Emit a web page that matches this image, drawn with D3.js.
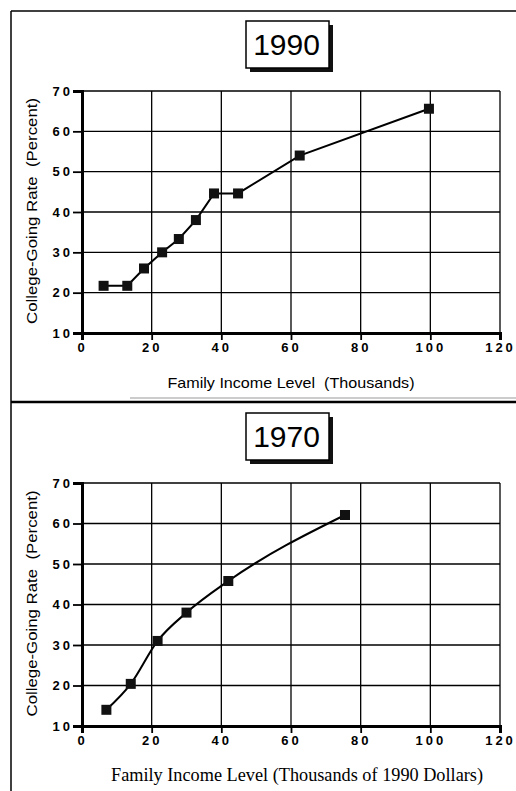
<!DOCTYPE html>
<html>
<head>
<meta charset="utf-8">
<script src="https://cdn.jsdelivr.net/npm/d3@7"></script>
<style>
  body { margin: 0; background: #fff; }
  svg { display: block; }
</style>
</head>
<body>
<svg width="516" height="791"></svg>
<script>
// values
const income1990 = [6.2, 13, 17.8, 23, 27.8, 32.7, 37.9, 44.8, 62.5, 99.6];
const rate1990 = [21.7, 21.7, 26, 30, 33.3, 38, 44.6, 44.6, 54, 65.6];
const income1970 = [7, 14, 21.7, 30, 42, 75.5];
const rate1970 = [14, 20.4, 31, 38, 45.8, 62.1];
const xTicks = [0, 20, 40, 60, 80, 100, 120];
const yTicks = [10, 20, 30, 40, 50, 60, 70];

const svg = d3.select('svg');
const sans = 'Liberation Sans, Arial, sans-serif';

// outer panel frames
svg.append('line').attr('x1', 11).attr('y1', 11).attr('x2', 11).attr('y2', 791)
  .attr('stroke', '#000').attr('stroke-width', 1.5);
svg.append('line').attr('x1', 11).attr('y1', 11).attr('x2', 516).attr('y2', 11)
  .attr('stroke', '#000').attr('stroke-width', 1.5);
svg.append('line').attr('x1', 130).attr('y1', 398).attr('x2', 516).attr('y2', 398)
  .attr('stroke', '#999').attr('stroke-width', 1);
svg.append('line').attr('x1', 11).attr('y1', 402).attr('x2', 516).attr('y2', 402)
  .attr('stroke', '#000').attr('stroke-width', 2.5);

const drawPanel = (opts) => {
  const { title, xs, ys, top, bottom, boxTop, curve, xLabel, xLabelFont, xLabelSize, xLabelLen, xLabelX } = opts;
  const left = 82, right = 500;

  const x = d3.scaleLinear().domain([0, 120]).range([left, right]);
  const y = d3.scaleLinear().domain([10, 70]).range([bottom, top]);

  // title box with drop shadow
  const g = svg.append('g');
  g.append('rect').attr('x', 250).attr('y', boxTop + 4).attr('width', 83).attr('height', 47).attr('fill', '#111');
  g.append('rect').attr('x', 246).attr('y', boxTop).attr('width', 83).attr('height', 47)
    .attr('fill', '#fff').attr('stroke', '#000').attr('stroke-width', 1.5);
  g.append('text').attr('x', 286.5).attr('y', boxTop + 34)
    .attr('text-anchor', 'middle')
    .attr('font-family', sans)
    .attr('font-size', 30).text(title);

  // grid
  g.append('g').selectAll('line').data(yTicks).join('line')
    .attr('x1', left).attr('x2', right).attr('y1', d => y(d)).attr('y2', d => y(d))
    .attr('stroke', '#000').attr('stroke-width', 1.3);
  g.append('g').selectAll('line').data(xTicks).join('line')
    .attr('x1', d => x(d)).attr('x2', d => x(d)).attr('y1', top).attr('y2', bottom)
    .attr('stroke', '#000').attr('stroke-width', 1.3);

  // axes
  const yAxis = g.append('g').attr('transform', `translate(${left},0)`)
    .call(d3.axisLeft(y).tickValues(yTicks).tickSize(9).tickPadding(3).tickFormat(d3.format('d')));
  const xAxis = g.append('g').attr('transform', `translate(0,${bottom})`)
    .call(d3.axisBottom(x).tickValues(xTicks).tickSize(7).tickPadding(3).tickFormat(d3.format('d')));
  [xAxis, yAxis].forEach(a => {
    a.select('.domain').attr('stroke-width', 3);
    a.selectAll('.tick line').attr('stroke-width', 1.8);
    a.selectAll('.tick text')
      .attr('font-family', sans)
      .attr('font-weight', 'bold').attr('font-size', 13)
      .attr('letter-spacing', 3).attr('fill', '#000');
  });
  yAxis.selectAll('.tick text').attr('dx', 3);

  // line + markers
  const pts = xs.map((v, i) => [v, ys[i]]);
  g.append('path').datum(pts)
    .attr('fill', 'none').attr('stroke', '#000').attr('stroke-width', 2)
    .attr('d', d3.line().x(d => x(d[0])).y(d => y(d[1])).curve(curve));
  g.append('g').selectAll('rect').data(pts).join('rect')
    .attr('x', d => x(d[0]) - 5).attr('y', d => y(d[1]) - 5)
    .attr('width', 10).attr('height', 10).attr('fill', '#111');

  // axis labels
  g.append('text')
    .attr('transform', `translate(37,${(top + bottom) / 2 - 1}) rotate(-90)`)
    .attr('text-anchor', 'middle')
    .attr('font-family', sans)
    .attr('font-size', 14.5).attr('xml:space', 'preserve')
    .attr('textLength', 226).attr('lengthAdjust', 'spacingAndGlyphs')
    .text('College-Going Rate  (Percent)');
  g.append('text')
    .attr('x', xLabelX).attr('y', bottom + 55)
    .attr('text-anchor', 'middle')
    .attr('font-family', xLabelFont)
    .attr('font-size', xLabelSize).attr('xml:space', 'preserve')
    .attr('textLength', xLabelLen).attr('lengthAdjust', 'spacingAndGlyphs')
    .text(xLabel);
};

drawPanel({
  title: '1990', xs: income1990, ys: rate1990, top: 91, bottom: 333, boxTop: 21,
  curve: d3.curveLinear,
  xLabel: 'Family Income Level  (Thousands)',
  xLabelFont: sans, xLabelSize: 15, xLabelLen: 247, xLabelX: 291
});
drawPanel({
  title: '1970', xs: income1970, ys: rate1970, top: 483, bottom: 726, boxTop: 413,
  curve: d3.curveMonotoneX,
  xLabel: 'Family Income Level (Thousands of 1990 Dollars)',
  xLabelFont: 'Liberation Serif, Times New Roman, serif', xLabelSize: 18, xLabelLen: 372, xLabelX: 297
});
</script>
</body>
</html>
